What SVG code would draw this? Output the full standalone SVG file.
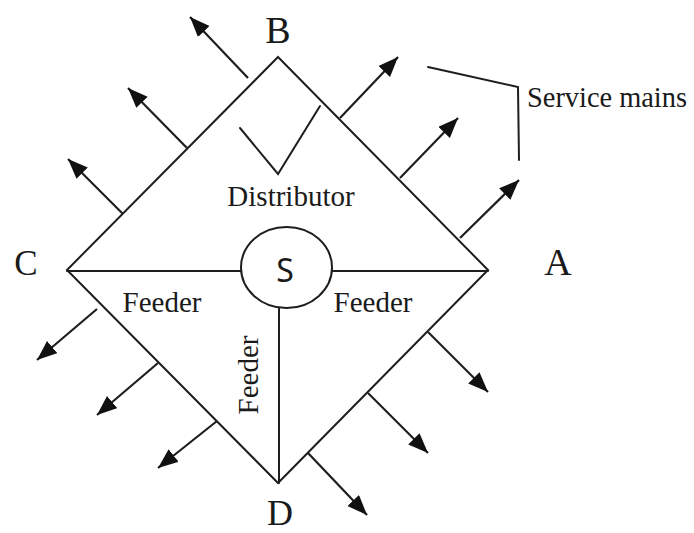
<svg xmlns="http://www.w3.org/2000/svg" width="694" height="533" viewBox="0 0 694 533">
<style>
.ln{fill:none;stroke:#1e1e1e;stroke-width:2;stroke-linecap:round;stroke-linejoin:miter}
.ar{fill:none;stroke:#1e1e1e;stroke-width:2.2;marker-end:url(#ah)}
.t{font-family:"Liberation Serif","Times New Roman",serif;fill:#1a1a1a}
.lbl{font-size:38px}
.w{font-size:29px}
.s{font-family:"Noto Sans","Liberation Sans",sans-serif;font-size:32px;fill:#1a1a1a}
</style>
<defs>
<marker id="ah" markerUnits="userSpaceOnUse" markerWidth="22" markerHeight="18" refX="20" refY="8" orient="auto">
<path d="M0,0 L20,8 L0,16 Z" fill="#111"/>
</marker>
</defs>
<rect width="694" height="533" fill="#fff"/>
<g id="distributor">
<polygon class="ln" points="278,57 488,270 278,483 67,270"/>
</g>
<g id="source">
<ellipse class="ln" cx="286.5" cy="267.5" rx="45.5" ry="40.5"/>
<text class="s" x="285" y="282" text-anchor="middle">S</text>
</g>
<g id="node-B"><text class="t lbl" x="278" y="43" text-anchor="middle">B</text></g>
<g id="node-A"><text class="t lbl" x="558" y="275" text-anchor="middle">A</text></g>
<g id="node-C"><text class="t" style="font-size:35px" x="26" y="275" text-anchor="middle">C</text></g>
<g id="node-D"><text class="t" style="font-size:36px" x="280" y="525" text-anchor="middle">D</text></g>
<g id="connectors">
<line class="ln" x1="67" y1="271" x2="241" y2="271"/>
<line class="ln" x1="332" y1="271" x2="488" y2="271"/>
<line class="ln" x1="279" y1="308" x2="279" y2="483"/>
<polyline class="ln" points="240,128 278,174 320,106"/>
<polyline class="ln" points="428,67 518,87 519,160"/>
<line class="ar" x1="340" y1="118" x2="398" y2="57"/>
<line class="ar" x1="400" y1="178" x2="458" y2="118"/>
<line class="ar" x1="460" y1="238" x2="519" y2="180"/>
<line class="ar" x1="248" y1="78" x2="190" y2="17"/>
<line class="ar" x1="187" y1="148" x2="128" y2="88"/>
<line class="ar" x1="123" y1="214" x2="68" y2="159"/>
<line class="ar" x1="97" y1="309" x2="37" y2="360"/>
<line class="ar" x1="158" y1="363" x2="97" y2="415"/>
<line class="ar" x1="217" y1="421" x2="158" y2="468"/>
<line class="ar" x1="428" y1="332" x2="488" y2="392"/>
<line class="ar" x1="368" y1="393" x2="428" y2="453"/>
<line class="ar" x1="308" y1="453" x2="367" y2="515"/>
</g>
<g id="labels">
<text class="t w" x="291" y="206" text-anchor="middle">Distributor</text>
<text class="t w" x="527" y="107" textLength="160" lengthAdjust="spacingAndGlyphs">Service mains</text>
<text class="t w" x="162" y="312" text-anchor="middle">Feeder</text>
<text class="t w" x="373" y="312" text-anchor="middle">Feeder</text>
<text class="t w" transform="translate(258,375) rotate(-90)" text-anchor="middle">Feeder</text>
</g>
</svg>
